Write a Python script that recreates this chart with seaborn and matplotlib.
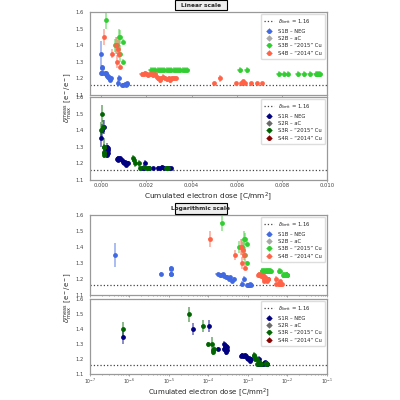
import numpy as np
import pandas as pd
import seaborn as sns
import matplotlib.pyplot as plt
from matplotlib.colors import to_rgba
from matplotlib.patches import Rectangle

sns.set_style("white")
plt.rcParams['font.family'] = ['DejaVu Sans']

delta_limit = 1.16

# ---- S1B - NEG
s1b_dose = [4.3e-7, 6.4e-6, 1.1e-5, 1.15e-5, 1.1e-5, 1.15e-5,
            1.7e-4, 1.9e-4, 2.1e-4, 2.3e-4, 2.5e-4, 2.7e-4, 3.0e-4, 3.3e-4, 3.6e-4, 4.0e-4, 4.4e-4,
            7.2e-4, 7.8e-4, 9.2e-4, 9.8e-4, 1.03e-3, 1.08e-3, 1.12e-3, 1.16e-3]
s1b_delta = [1.35, 1.23, 1.23, 1.26, 1.27, 1.23,
             1.23, 1.225, 1.225, 1.23, 1.22, 1.215, 1.21, 1.20, 1.21, 1.19, 1.20,
             1.17, 1.20, 1.16, 1.16, 1.165, 1.16, 1.17, 1.165]
s1b_derr = [3e-8, 8e-7, 1e-6, 1e-6, 1e-6, 1e-6] + [2e-5] * 11 + [4e-5] * 8
s1b_yerr = [0.075, 0.012, 0.012, 0.012, 0.012, 0.012] + [0.01] * 11 + [0.02, 0.02] + [0.008] * 6

# ---- S3B - "2015" Cu
s3b_dose = [2.2e-4, 5.9e-4, 7.0e-4, 7.9e-4, 8.2e-4, 8.5e-4, 9.5e-4, 9.7e-4,
            2.2e-3, 2.3e-3, 2.4e-3, 2.5e-3, 2.6e-3, 2.7e-3, 2.8e-3, 2.9e-3, 3.0e-3,
            3.1e-3, 3.2e-3, 3.3e-3, 3.4e-3, 3.5e-3, 3.6e-3, 3.7e-3, 3.8e-3,
            6.13e-3, 6.46e-3,
            7.87e-3, 8.1e-3, 8.25e-3, 8.7e-3, 9.0e-3, 9.26e-3, 9.5e-3, 9.55e-3, 9.6e-3, 9.65e-3, 9.7e-3]
s3b_delta = [1.55, 1.40, 1.40, 1.45, 1.35, 1.45, 1.30, 1.42] + [1.25] * 17 + [1.25, 1.25] + [1.225] * 11
s3b_derr = [2e-5, 3e-5, 3e-5, 3e-5, 3e-5, 3e-5, 3e-5, 3e-5] + [1.2e-4] * 17 + [1.3e-4] * 2 + [1.3e-4] * 11
s3b_yerr = [0.05, 0.04, 0.05, 0.05, 0.05, 0.04, 0.015, 0.015] + [0.018] * 17 + [0.02] * 2 + [0.018] * 11

# ---- S4B - "2014" Cu
s4b_dose = [1.1e-4, 4.8e-4, 6.6e-4, 6.9e-4, 7.3e-4, 8.0e-4, 8.4e-4,
            1.81e-3, 1.88e-3, 1.95e-3, 2.02e-3, 2.09e-3, 2.16e-3, 2.23e-3, 2.30e-3, 2.38e-3, 2.46e-3,
            2.50e-3, 2.58e-3, 2.66e-3, 2.74e-3, 2.82e-3, 2.90e-3, 2.98e-3, 3.06e-3, 3.14e-3, 3.22e-3, 3.30e-3,
            5.0e-3, 5.24e-3, 5.96e-3, 6.18e-3, 6.25e-3, 6.30e-3, 6.36e-3, 6.62e-3, 6.89e-3, 7.14e-3]
s4b_delta = [1.45, 1.35, 1.40, 1.30, 1.38, 1.35, 1.27,
             1.225, 1.225, 1.23, 1.225, 1.22, 1.225, 1.225, 1.22, 1.225, 1.21,
             1.20, 1.19, 1.20, 1.21, 1.20, 1.195, 1.20, 1.19, 1.20, 1.20, 1.20,
             1.17, 1.20, 1.17, 1.17, 1.175, 1.185, 1.17, 1.17, 1.17, 1.17]
s4b_derr = [1e-5, 3e-5, 3e-5, 3e-5, 3e-5, 3e-5, 3e-5] + [1.2e-4] * 21 + [5e-5] * 10
s4b_yerr = [0.05, 0.03, 0.05, 0.04, 0.05, 0.03, 0.015] + [0.015] * 21 + [0.008, 0.02] + [0.008] * 8

# ---- S1R - NEG
s1r_dose = [6.8e-7, 4.1e-5, 1.05e-4, 1.7e-4, 2.4e-4, 2.5e-4, 2.6e-4, 2.7e-4, 2.8e-4, 2.9e-4, 3.0e-4,
            6.8e-4, 7.2e-4, 7.6e-4, 8.0e-4, 8.5e-4, 9.0e-4, 9.5e-4, 1.0e-3, 1.05e-3, 1.1e-3, 1.15e-3, 1.2e-3,
            1.95e-3, 1.8e-3, 1.9e-3, 2.1e-3, 2.3e-3, 2.5e-3, 2.6e-3, 2.7e-3, 2.8e-3, 3.0e-3, 3.1e-3]
s1r_delta = [1.35, 1.40, 1.42, 1.27, 1.27, 1.30, 1.28, 1.25, 1.29, 1.28, 1.26,
             1.225, 1.23, 1.22, 1.225, 1.23, 1.22, 1.21, 1.20, 1.21, 1.19, 1.20, 1.20,
             1.20, 1.17, 1.17, 1.17, 1.17, 1.175, 1.17, 1.18, 1.175, 1.17, 1.17]
s1r_derr = [5e-8, 3e-6, 8e-6, 1.2e-5] + [2e-5] * 7 + [5e-5] * 12 + [6e-5] * 11
s1r_yerr = [0.05, 0.04, 0.04, 0.015] + [0.02] * 7 + [0.012] * 12 + [0.02] + [0.008] * 10

# ---- S3R - "2015" Cu
s3r_dose = [6.8e-7, 3.3e-5, 7.1e-5, 1.0e-4, 1.25e-4, 1.3e-4, 1.35e-4, 1.3e-4,
            1.40e-3, 1.45e-3, 1.5e-3, 1.65e-3, 1.7e-3, 1.9e-3, 2.0e-3, 2.05e-3, 2.1e-3, 2.85e-3, 2.9e-3, 2.95e-3]
s3r_delta = [1.40, 1.50, 1.42, 1.30, 1.30, 1.25, 1.27, 1.26,
             1.23, 1.22, 1.20, 1.20, 1.17, 1.18, 1.17, 1.175, 1.17, 1.17, 1.175, 1.17]
s3r_derr = [5e-8, 3e-6, 5e-6, 8e-6, 8e-6, 8e-6, 8e-6, 8e-6] + [4e-5] * 12
s3r_yerr = [0.05, 0.05, 0.04, 0.015, 0.05, 0.02, 0.02, 0.02] + [0.02, 0.02, 0.02, 0.02, 0.015] + [0.01] * 7

empty = []

series_b = [
    ("S1B – NEG", "royalblue", s1b_dose, s1b_delta, s1b_derr, s1b_yerr),
    ("S2B – aC", "darkgray", empty, empty, empty, empty),
    ("S3B – \u201c2015\u201d Cu", "limegreen", s3b_dose, s3b_delta, s3b_derr, s3b_yerr),
    ("S4B – \u201c2014\u201d Cu", "tomato", s4b_dose, s4b_delta, s4b_derr, s4b_yerr),
]
series_r = [
    ("S1R – NEG", "navy", s1r_dose, s1r_delta, s1r_derr, s1r_yerr),
    ("S2R – aC", "dimgray", empty, empty, empty, empty),
    ("S3R – \u201c2015\u201d Cu", "darkgreen", s3r_dose, s3r_delta, s3r_derr, s3r_yerr),
    ("S4R – \u201c2014\u201d Cu", "darkred", empty, empty, empty, empty),
]


def draw_panel(ax, series, log):
    ax.axhline(delta_limit, ls=':', color='#444444', lw=0.9,
               label=r'$\delta_{\rm limit}$ = 1.16')
    for name, color, x, y, xe, ye in series:
        if len(x):
            ax.errorbar(x, y, xerr=xe, yerr=ye, fmt='none',
                        ecolor=to_rgba(color, 0.45), elinewidth=1.4, capsize=0)
            df = pd.DataFrame({"dose": x, "delta": y})
            sns.scatterplot(data=df, x="dose", y="delta", color=color, s=12,
                            linewidth=0, ax=ax, legend=False, zorder=3)
        # legend proxy
        ax.errorbar([np.nan], [np.nan], xerr=[0.1], yerr=[0.1], fmt='o', ms=2.5,
                    color=color, elinewidth=0.8, label=name)
    if log:
        ax.set_xscale('log')
        ax.set_xlim(1e-7, 1e-1)
    else:
        ax.set_xlim(-0.0005, 0.010)
    ax.set_ylim(1.1, 1.6)
    ax.set_yticks([1.1, 1.2, 1.3, 1.4, 1.5, 1.6])
    ax.set_xlabel("")
    ax.set_ylabel("")
    for sp in ax.spines.values():
        sp.set_color('#999999')
        sp.set_linewidth(0.9)
    ax.tick_params(labelsize=3.8, colors='#444444', pad=1.2)
    ax.tick_params(axis='x', which='both', bottom=True, length=1.6, color='#999999',
                   width=0.6, pad=0.6)
    ax.tick_params(axis='x', which='minor', length=1.0)
    if log:
        ax.tick_params(axis='x', labelsize=3.3, pad=0.4)
    ax.legend(loc='upper right', fontsize=3.8, frameon=True, framealpha=1,
              edgecolor='#dddddd', borderpad=0.6, labelspacing=0.45, handlelength=1.8,
              handletextpad=0.8, borderaxespad=0.4)


fig = plt.figure(figsize=(4, 4), dpi=100)
L, W = 0.225, 0.5925
ax1 = fig.add_axes([L, 0.7625, W, 0.2075])
ax2 = fig.add_axes([L, 0.55, W, 0.2075])
ax3 = fig.add_axes([L, 0.2625, W, 0.2])
ax4 = fig.add_axes([L, 0.064, W, 0.1885])

draw_panel(ax1, series_b, False)
draw_panel(ax2, series_r, False)
draw_panel(ax3, series_b, True)
draw_panel(ax4, series_r, True)
ax1.set_xticklabels([])
ax3.set_xticklabels([])

xlabel = "Cumulated electron dose [C/mm$^2$]"
ylabel = r"$\delta_{\rm max}^{\rm meas}$ [e$^-$/e$^-$]"
xc = L + W / 2
fig.text(xc, 0.509, xlabel, ha='center', va='center', fontsize=5.3)
fig.text(xc, 0.018, xlabel, ha='center', va='center', fontsize=5.0)
fig.text(0.172, 0.757, ylabel, rotation=90, ha='center', va='center', fontsize=5)
fig.text(0.172, 0.257, ylabel, rotation=90, ha='center', va='center', fontsize=5)

for y0, title in [(0.466, "Logarithmic scale"), (0.974, "Linear scale")]:
    fig.patches.append(Rectangle((0.4375, y0), 0.13, 0.026, transform=fig.transFigure,
                                 facecolor='#eeeeee', edgecolor='black', lw=0.8))
    fig.text(0.5025, y0 + 0.013, title, ha='center', va='center', fontsize=4.2, weight='bold')

fig.savefig("out.png", dpi=100)
